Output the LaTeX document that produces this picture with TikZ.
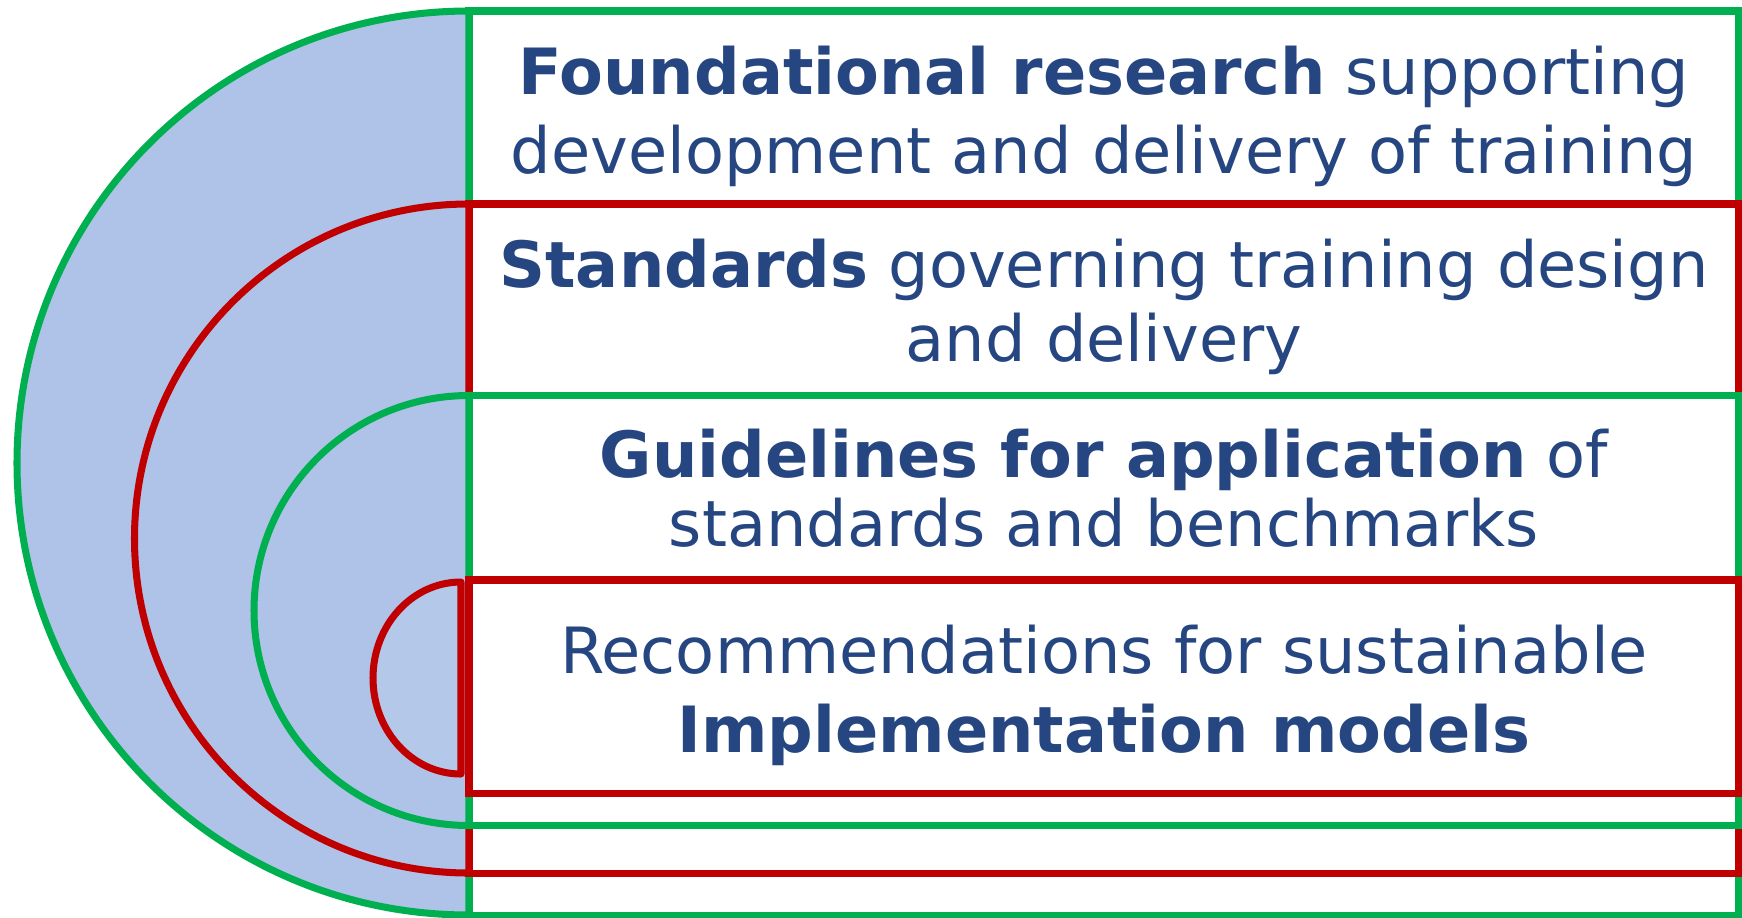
\documentclass[tikz,border=0pt]{standalone}
\usepackage{fontspec}
\setmainfont{DejaVu Sans}
\definecolor{ringgreen}{RGB}{0,176,80}
\definecolor{ringred}{RGB}{192,0,0}
\definecolor{ringfill}{RGB}{174,195,231}
\definecolor{corefill}{RGB}{180,200,233}
\definecolor{textblue}{RGB}{38,70,130}
\usepackage{tikz}
\usetikzlibrary{positioning}
\tikzset{
  band/.style={rectangle,draw=#1,line width=2pt,fill=white,
               anchor=north west,outer sep=0pt,inner sep=0pt,
               minimum width=12.695cm},
  ring/.style={draw=#1,line width=2pt,fill=ringfill},
  bandtext/.style={align=center,text=textblue,inner sep=0pt,
                   font=\fontsize{18.15}{#1}\selectfont},
  bandtext/.default=22.5pt,
}

\begin{document}
\begin{tikzpicture}
    \useasboundingbox (0,0) rectangle (17.42,9.17);

    % nested layers, outermost first
    \node[band=ringgreen,minimum height=9.04cm] (research band) at (4.69,9.06) {};
    \draw[ring=ringgreen] (research band.north west)
        arc[start angle=90,end angle=270,radius=4.52] -- cycle;

    \node[band=ringred,minimum height=6.69cm] (standards band) at (4.69,7.13) {};
    \draw[ring=ringred] (standards band.north west)
        arc[start angle=90,end angle=270,radius=3.345] -- cycle;

    \node[band=ringgreen,minimum height=4.30cm] (guidelines band) at (4.69,5.215) {};
    \draw[ring=ringgreen] (guidelines band.north west)
        arc[start angle=90,end angle=270,radius=2.15] -- cycle;

    \node[band=ringred,minimum height=2.13cm] (models band) at (4.69,3.37) {};

    % small half disc at the core
    \coordinate (core top) at (4.61,3.35);
    \draw[ring=ringred,fill=corefill,line join=round] (core top)
        arc[start angle=90,end angle=270,x radius=0.88,y radius=0.96] -- cycle;

    % texts
    \node[bandtext] (research) at (11.04,8.01)
        {\textbf{Foundational research} supporting\\development and delivery of training};
    \node[bandtext=21pt] (standards) at (11.04,6.10)
        {\textbf{Standards} governing training design\\and delivery};
    \node[bandtext=19.6pt] (guidelines) at (11.04,4.285)
        {\textbf{Guidelines for application} of\\standards and benchmarks};
    \node[bandtext] (models) at (11.04,2.22)
        {Recommendations for sustainable\\\textbf{Implementation models}};

\end{tikzpicture}
\end{document}
